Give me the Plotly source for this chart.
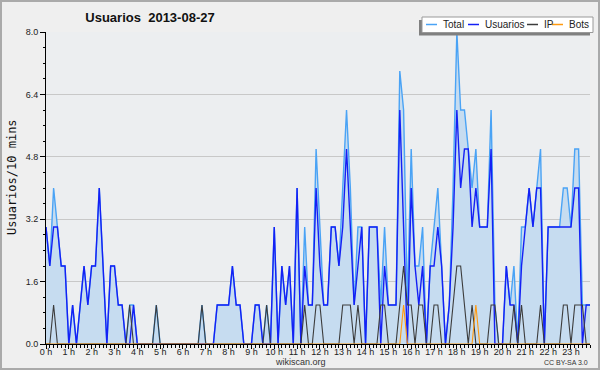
import plotly.graph_objects as go

# 10-minute slots over the day (144 slots)
usuarios = [3,2,3,3,2,2,0,1,0,1,2,1,
            2,2,4,2,0,2,2,1,1,0,0,1,
            0,0,0,0,0,0,0,0,0,0,0,0,
            0,0,0,0,0,0,0,0,0,1,1,1,
            1,2,1,1,0,0,0,1,1,0,0,0,
            3,0,2,1,2,0,4,0,2,1,1,4,
            2,1,1,3,3,2,3,5,3,1,2,3,
            0,3,3,3,0,2,1,1,1,6,3,0,
            4,2,1,2,0,2,2,3,2,0,1,3,
            6,4,5,5,3,4,3,3,3,5,0,0,
            0,2,1,1,0,2,3,4,3,4,4,0,
            3,3,3,3,3,3,3,4,4,0,1,1]

ip = [0,0,1,0,0,0,0,0,0,0,0,0,
      0,0,0,0,0,0,0,0,0,0,1,0,
      0,0,0,0,0,1,0,0,0,0,0,0,
      0,0,0,0,0,1,0,0,0,0,0,0,
      0,0,0,0,0,0,0,0,0,0,1,0,
      0,0,0,0,0,0,0,0,1,0,0,1,
      1,0,0,0,0,0,1,1,1,0,1,0,
      0,0,0,0,1,1,0,0,0,1,2,1,
      1,0,1,1,0,0,1,1,0,0,0,1,
      2,2,1,0,1,0,0,0,0,1,1,0,
      0,0,0,1,0,1,0,0,0,0,1,0,
      0,0,0,0,1,1,0,1,1,1,0,0]

bots = [0,0,0,0,0,0,0,0,0,0,0,0,
        0,0,0,0,0,0,0,0,0,0,0,0,
        0,0,0,0,0,0,0,0,0,0,0,0,
        0,0,0,0,0,0,0,0,0,0,0,0,
        0,0,0,0,0,0,0,0,0,0,0,0,
        0,0,0,0,0,0,0,0,0,0,0,0,
        0,0,0,0,0,0,0,0,0,0,0,0,
        0,0,0,0,0,0,0,0,0,0,1,0,
        0,0,0,0,0,0,0,0,0,0,0,0,
        0,0,0,0,0,1,0,0,0,0,0,0,
        0,0,0,0,0,0,0,0,0,0,0,0,
        0,0,0,0,0,0,0,0,0,0,0,0]

total = [3,2,4,3,2,2,0,1,0,1,2,1,
         2,2,4,2,0,2,2,1,1,0,1,1,
         0,0,0,0,0,1,0,0,0,0,0,0,
         0,0,0,0,0,1,0,0,0,1,1,1,
         1,2,1,1,0,0,0,1,1,0,1,0,
         3,0,2,1,2,0,4,0,3,1,1,5,
         3,1,1,3,3,2,4,6,4,1,3,3,
         0,3,3,3,1,3,1,1,1,7,6,1,
         5,2,2,3,0,2,3,4,2,0,1,4,
         8,6,6,5,4,5,3,3,3,6,1,0,
         0,2,1,2,0,3,3,4,3,4,5,0,
         3,3,3,3,4,4,3,5,5,1,1,1]

hour_ticks = list(range(24))
hour_labels = ["0 h","1 h","2 h","3 h","4 h","5 h","6 h","7 h","8 h","9 h","10 h","11 h",
               "12 h","13 h","14 h","15 h","16 h","17 h","18 h","19 h","20 h","21 h","22 h","23 h"]
y_ticks = [0, 1.6, 3.2, 4.8, 6.4, 8.0]

series_names = ["Total", "Usuarios", "IP", "Bots"]
series_colors = ["#4aa3f5", "#1420f5", "#3c3c3c", "#ff9a10"]

x = [i / 6 for i in range(len(total))]

W, H = 600, 370
ML, MR, MT, MB = 46, 10, 32, 26
PW, PH = W - ML - MR, H - MT - MB

def px(xp):
    return (xp - ML) / PW

def py(yp):
    return (H - MB - yp) / PH

fig = go.Figure()
fig.add_trace(go.Scatter(x=x, y=total, name=series_names[0], mode="lines",
                         line=dict(color=series_colors[0], width=1.4),
                         fill="tozeroy", fillcolor="#c6dcf0"))
fig.add_trace(go.Scatter(x=x, y=usuarios, name=series_names[1], mode="lines",
                         line=dict(color=series_colors[1], width=1.4)))
fig.add_trace(go.Scatter(x=x, y=ip, name=series_names[2], mode="lines",
                         line=dict(color=series_colors[2], width=1.1)))
fig.add_trace(go.Scatter(x=x, y=bots, name=series_names[3], mode="lines",
                         line=dict(color=series_colors[3], width=1.1)))

font_main = "Liberation Sans"

# Compact legend (box with shadow, short line samples and labels)
legend_shapes = [
    dict(type="rect", xref="paper", yref="paper",
         x0=px(419), x1=px(590), y0=py(35.5), y1=py(20),
         fillcolor="#808080", line=dict(width=0), layer="above"),
    dict(type="rect", xref="paper", yref="paper",
         x0=px(422), x1=px(593), y0=py(32.5), y1=py(17),
         fillcolor="#ffffff", line=dict(color="#999999", width=1), layer="above"),
]
legend_annots = []
sample_x = [426, 468, 527, 552]
for name, col, sx in zip(series_names, series_colors, sample_x):
    legend_shapes.append(dict(type="line", xref="paper", yref="paper",
                              x0=px(sx), x1=px(sx + 11), y0=py(24.5), y1=py(24.5),
                              line=dict(color=col, width=1.5), layer="above"))
    legend_annots.append(dict(text=name, xref="paper", yref="paper",
                              x=px(sx + 15), y=py(24.5), xanchor="left", yanchor="middle",
                              showarrow=False,
                              font=dict(family=font_main, size=10, color="#222222")))

fig.update_layout(
    width=W, height=H,
    margin=dict(l=ML, r=MR, t=MT, b=MB, autoexpand=False),
    paper_bgcolor="#efefef",
    plot_bgcolor="#eceef0",
    font=dict(family=font_main, size=9, color="#222222"),
    title=dict(text="<b>Usuarios  2013-08-27</b>", xref="container", yref="container",
               x=150 / W, y=1 - 17 / H, xanchor="center", yanchor="middle",
               font=dict(family=font_main, size=13, color="#111111")),
    showlegend=False,
    xaxis=dict(range=[0, x[-1]], tickmode="array", tickvals=hour_ticks, ticktext=hour_labels,
               ticks="outside", ticklen=4, tickcolor="#000000", showgrid=False,
               showline=True, linecolor="#000000", linewidth=1, zeroline=False,
               automargin=False, tickfont=dict(family=font_main, size=9),
               ticklabelstandoff=-5,
               minor=dict(dtick=1 / 6, ticks="outside", ticklen=3, tickcolor="#000000", showgrid=False)),
    yaxis=dict(range=[0, 8], tickmode="array", tickvals=y_ticks, tickformat=".1f",
               ticks="outside", ticklen=5, tickcolor="#000000",
               showgrid=True, gridcolor="#c8c8c8", gridwidth=1,
               showline=True, linecolor="#000000", linewidth=1, zeroline=False,
               automargin=False, tickfont=dict(family=font_main, size=9),
               minor=dict(dtick=0.4, ticks="outside", ticklen=2, tickcolor="#000000", showgrid=False)),
    shapes=legend_shapes + [
        dict(type="rect", xref="paper", yref="paper",
             x0=px(1), x1=px(W - 1), y0=py(H - 1), y1=py(1),
             fillcolor="rgba(0,0,0,0)", line=dict(color="#aaaaaa", width=2), layer="above"),
    ],
    annotations=legend_annots + [
        dict(text="Usuarios/10 mins", xref="paper", yref="paper", x=px(12), y=py(177),
             xanchor="center", yanchor="middle", textangle=-90, showarrow=False,
             font=dict(family="DejaVu Sans Mono", size=12, color="#111111")),
        dict(text="wikiscan.org", xref="paper", yref="paper", x=px(300), y=py(362),
             xanchor="center", yanchor="middle", showarrow=False,
             font=dict(family=font_main, size=9, color="#333333")),
        dict(text="CC BY-SA 3.0", xref="paper", yref="paper", x=px(590), y=py(362),
             xanchor="right", yanchor="middle", showarrow=False,
             font=dict(family=font_main, size=7, color="#333333")),
    ],
)

fig.write_html("out.html", config={"displayModeBar": False},
               post_script="document.body.style.margin='0px';document.body.style.overflow='hidden';")
